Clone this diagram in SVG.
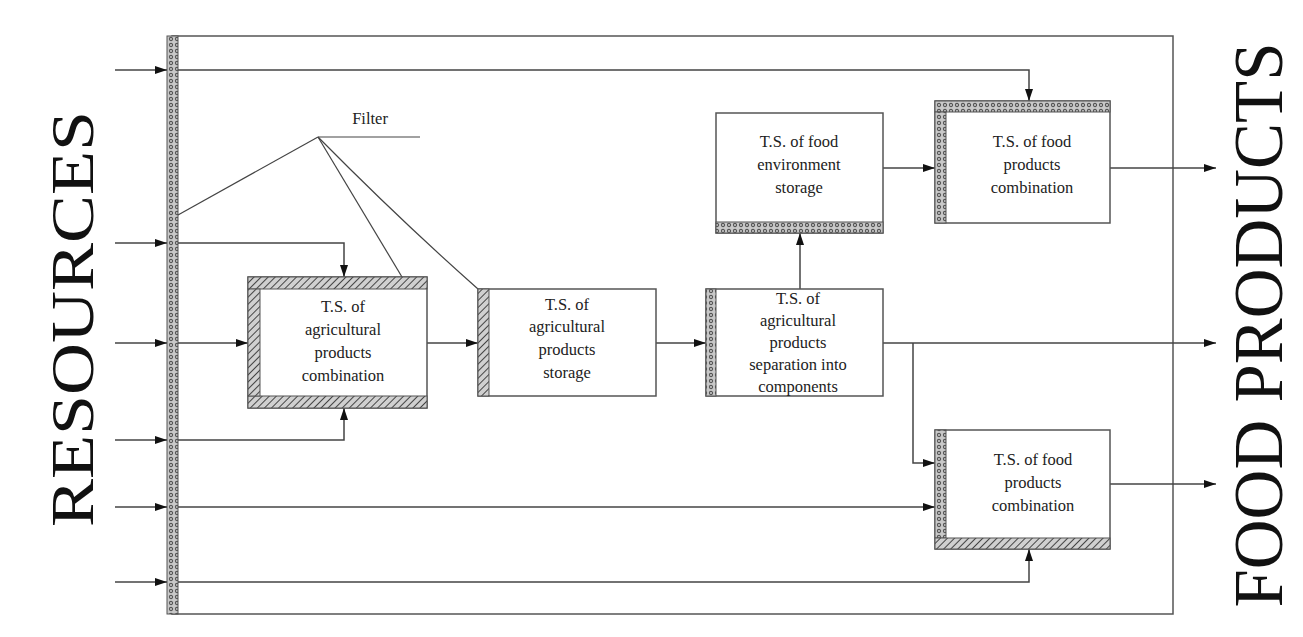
<svg xmlns="http://www.w3.org/2000/svg" width="1303" height="637" viewBox="0 0 1303 637">
<defs>
<pattern id="hatch" patternUnits="userSpaceOnUse" width="5" height="5" patternTransform="rotate(45)">
<rect width="5" height="5" fill="#d0d0d0"/>
<line x1="0" y1="0" x2="0" y2="5" stroke="#444" stroke-width="2"/>
</pattern>
<pattern id="dots" patternUnits="userSpaceOnUse" width="6" height="6">
<rect width="6" height="6" fill="#c8c8c8"/>
<circle cx="3" cy="3" r="1.6" fill="none" stroke="#555" stroke-width="1.1"/>
</pattern>
<marker id="arr" markerWidth="12" markerHeight="10" refX="12" refY="5" orient="auto" markerUnits="userSpaceOnUse">
<path d="M0,1 L12,5 L0,9 Z" fill="#111"/>
</marker>
<style>
.ln{stroke:#444;stroke-width:1.5;fill:none}
.box{fill:#fff;stroke:#555;stroke-width:1.5}
.h{fill:url(#hatch);stroke:#555;stroke-width:1}
.d{fill:url(#dots);stroke:#555;stroke-width:1}
.t{font-family:"Liberation Serif","Times New Roman",serif;font-size:16.5px;fill:#222;text-anchor:middle}
.big{font-family:"Liberation Serif","Times New Roman",serif;fill:#111;text-anchor:middle}
</style>
</defs>
<rect width="1303" height="637" fill="#fff"/>

<g id="frame">
<rect x="172" y="36" width="1001" height="578" class="box" fill="none"/>
<rect x="167" y="36" width="11" height="578" class="d"/>
</g>

<g id="labels">
<text class="big" font-size="62" transform="translate(93,319) rotate(-90)" textLength="416" lengthAdjust="spacingAndGlyphs">RESOURCES</text>
<text class="big" font-size="70" transform="translate(1282,325) rotate(-90)" textLength="565" lengthAdjust="spacingAndGlyphs">FOOD PRODUCTS</text>
<text class="t" x="370" y="124" font-size="15">Filter</text>
</g>

<g id="connectors">
<line class="ln" x1="115" y1="70" x2="167" y2="70" marker-end="url(#arr)"/>
<line class="ln" x1="115" y1="243" x2="167" y2="243" marker-end="url(#arr)"/>
<line class="ln" x1="115" y1="343" x2="167" y2="343" marker-end="url(#arr)"/>
<line class="ln" x1="115" y1="440" x2="167" y2="440" marker-end="url(#arr)"/>
<line class="ln" x1="115" y1="507" x2="167" y2="507" marker-end="url(#arr)"/>
<line class="ln" x1="115" y1="582" x2="167" y2="582" marker-end="url(#arr)"/>
<polyline class="ln" points="178,70 1029,70 1029,101" marker-end="url(#arr)"/>
<polyline class="ln" points="178,243 344,243 344,277" marker-end="url(#arr)"/>
<line class="ln" x1="178" y1="343" x2="248" y2="343" marker-end="url(#arr)"/>
<polyline class="ln" points="178,440 344,440 344,408" marker-end="url(#arr)"/>
<line class="ln" x1="178" y1="507" x2="935" y2="507" marker-end="url(#arr)"/>
<polyline class="ln" points="178,582 1029,582 1029,549" marker-end="url(#arr)"/>
<line class="ln" x1="427" y1="343" x2="478" y2="343" marker-end="url(#arr)"/>
<line class="ln" x1="656" y1="343" x2="706" y2="343" marker-end="url(#arr)"/>
<line class="ln" x1="800" y1="289" x2="800" y2="233" marker-end="url(#arr)"/>
<line class="ln" x1="883" y1="168" x2="935" y2="168" marker-end="url(#arr)"/>
<line class="ln" x1="1110" y1="168" x2="1216" y2="168" marker-end="url(#arr)"/>
<line class="ln" x1="883" y1="343" x2="1216" y2="343" marker-end="url(#arr)"/>
<polyline class="ln" points="913,343 913,463 935,463" marker-end="url(#arr)"/>
<line class="ln" x1="1110" y1="484" x2="1216" y2="484" marker-end="url(#arr)"/>
<g id="filter-lines" stroke="#444" stroke-width="1.2" fill="none">
<line x1="318" y1="137" x2="420" y2="137"/>
<line x1="318" y1="137" x2="178" y2="215"/>
<line x1="318" y1="137" x2="402" y2="277"/>
<path d="M318,137 Q400,220 478,289"/>
</g>
</g>

<g id="n-agri-combination">
<rect x="248" y="277" width="179" height="131" class="box"/>
<rect x="248" y="277" width="179" height="12" class="h"/>
<rect x="248" y="396" width="179" height="12" class="h"/>
<rect x="248" y="289" width="12" height="107" class="h"/>
<text class="t" x="343" y="312">T.S. of</text>
<text class="t" x="343" y="335">agricultural</text>
<text class="t" x="343" y="358">products</text>
<text class="t" x="343" y="381">combination</text>
</g>

<g id="n-agri-storage">
<rect x="478" y="289" width="178" height="107" class="box"/>
<rect x="478" y="289" width="11" height="107" class="h"/>
<text class="t" x="567" y="310">T.S. of</text>
<text class="t" x="567" y="332">agricultural</text>
<text class="t" x="567" y="355">products</text>
<text class="t" x="567" y="378">storage</text>
</g>

<g id="n-agri-separation">
<rect x="706" y="289" width="177" height="107" class="box"/>
<rect x="706" y="289" width="10" height="107" class="d"/>
<text class="t" x="798" y="304" font-size="15.5">T.S. of</text>
<text class="t" x="798" y="326" font-size="15.5">agricultural</text>
<text class="t" x="798" y="348" font-size="15.5">products</text>
<text class="t" x="798" y="370" font-size="15.5">separation  into</text>
<text class="t" x="798" y="392" font-size="15.5">components</text>
</g>

<g id="n-env-storage">
<rect x="716" y="113" width="167" height="120" class="box"/>
<rect x="716" y="222" width="167" height="11" class="d"/>
<text class="t" x="799" y="147">T.S. of food</text>
<text class="t" x="799" y="170">environment</text>
<text class="t" x="799" y="193">storage</text>
</g>

<g id="n-food-combination-top">
<rect x="935" y="101" width="175" height="122" class="box"/>
<rect x="935" y="101" width="175" height="11" class="d"/>
<rect x="935" y="112" width="11" height="111" class="d"/>
<text class="t" x="1032" y="147">T.S. of food</text>
<text class="t" x="1032" y="170">products</text>
<text class="t" x="1032" y="193">combination</text>
</g>

<g id="n-food-combination-bottom">
<rect x="935" y="430" width="175" height="119" class="box"/>
<rect x="935" y="430" width="11" height="108" class="d"/>
<rect x="935" y="538" width="175" height="11" class="h"/>
<text class="t" x="1033" y="465">T.S. of food</text>
<text class="t" x="1033" y="488">products</text>
<text class="t" x="1033" y="511">combination</text>
</g>
</svg>
